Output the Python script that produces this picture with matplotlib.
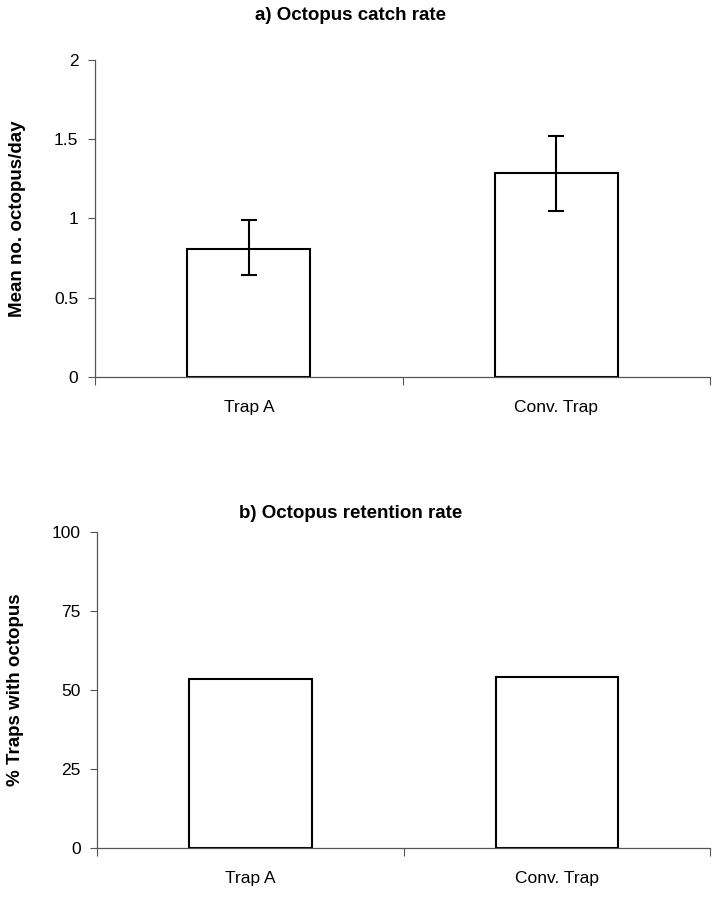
import matplotlib
matplotlib.use("Agg")
import matplotlib.pyplot as plt
from matplotlib import font_manager

# Data
categories = ["Trap A", "Conv. Trap"]
catch_mean = [0.81, 1.29]
catch_lo = [0.64, 1.05]
catch_hi = [0.99, 1.52]
retention_pct = [53.5, 54.1]

names = {f.name for f in font_manager.fontManager.ttflist}
tick_font = "Liberation Sans Narrow" if "Liberation Sans Narrow" in names else "Liberation Sans"
label_font = "Liberation Sans"

fig = plt.figure(figsize=(7.15, 8.99), dpi=100)
ax1 = fig.add_axes([0.133, 0.581, 0.860, 0.352])
ax2 = fig.add_axes([0.136, 0.057, 0.857, 0.351])

x = [0.5, 1.5]
err = [[m - lo for m, lo in zip(catch_mean, catch_lo)],
       [hi - m for m, hi in zip(catch_mean, catch_hi)]]


def style(ax, ylim, yticks, ylabel):
    ax.set_xlim(0, 2)
    ax.set_ylim(*ylim)
    ax.set_yticks(yticks)
    ax.set_yticklabels([("%g" % t) for t in yticks], fontfamily=tick_font, fontsize=12.5)
    ax.set_xticks([0, 1, 2])
    ax.set_xticklabels([])
    ax.set_xticks(x, minor=True)
    ax.set_xticklabels(categories, minor=True, fontfamily=tick_font, fontsize=12.5)
    ax.tick_params(axis="x", which="major", direction="out", length=6, color="#555555", width=0.8)
    ax.tick_params(axis="x", which="minor", length=0, pad=17)
    ax.tick_params(axis="y", direction="out", length=5, color="#555555", width=0.8, pad=7)
    for s in ["top", "right"]:
        ax.spines[s].set_visible(False)
    for s in ["left", "bottom"]:
        ax.spines[s].set_color("#555555")
        ax.spines[s].set_linewidth(0.9)
    ax.set_ylabel(ylabel, fontfamily=label_font, fontweight="bold", fontsize=13.5, labelpad=20)


ax1.bar(x, catch_mean, width=0.4, color="white", edgecolor="black", linewidth=1.5, zorder=2)
ax1.errorbar(x, catch_mean, yerr=err, fmt="none", ecolor="black", elinewidth=1.5,
             capsize=6, capthick=1.5, zorder=3)
style(ax1, (0, 2), [0, 0.5, 1, 1.5, 2], "Mean no. octopus/day")

ax2.bar(x, retention_pct, width=0.4, color="white", edgecolor="black", linewidth=1.5, zorder=2)
style(ax2, (0, 100), [0, 25, 50, 75, 100], "% Traps with octopus")

fig.text(0.49, 0.983, "a) Octopus catch rate", ha="center", va="center",
         fontfamily=label_font, fontweight="bold", fontsize=13.5)
fig.text(0.49, 0.429, "b) Octopus retention rate", ha="center", va="center",
         fontfamily=label_font, fontweight="bold", fontsize=13.5)

fig.savefig("out.png", dpi=100)
